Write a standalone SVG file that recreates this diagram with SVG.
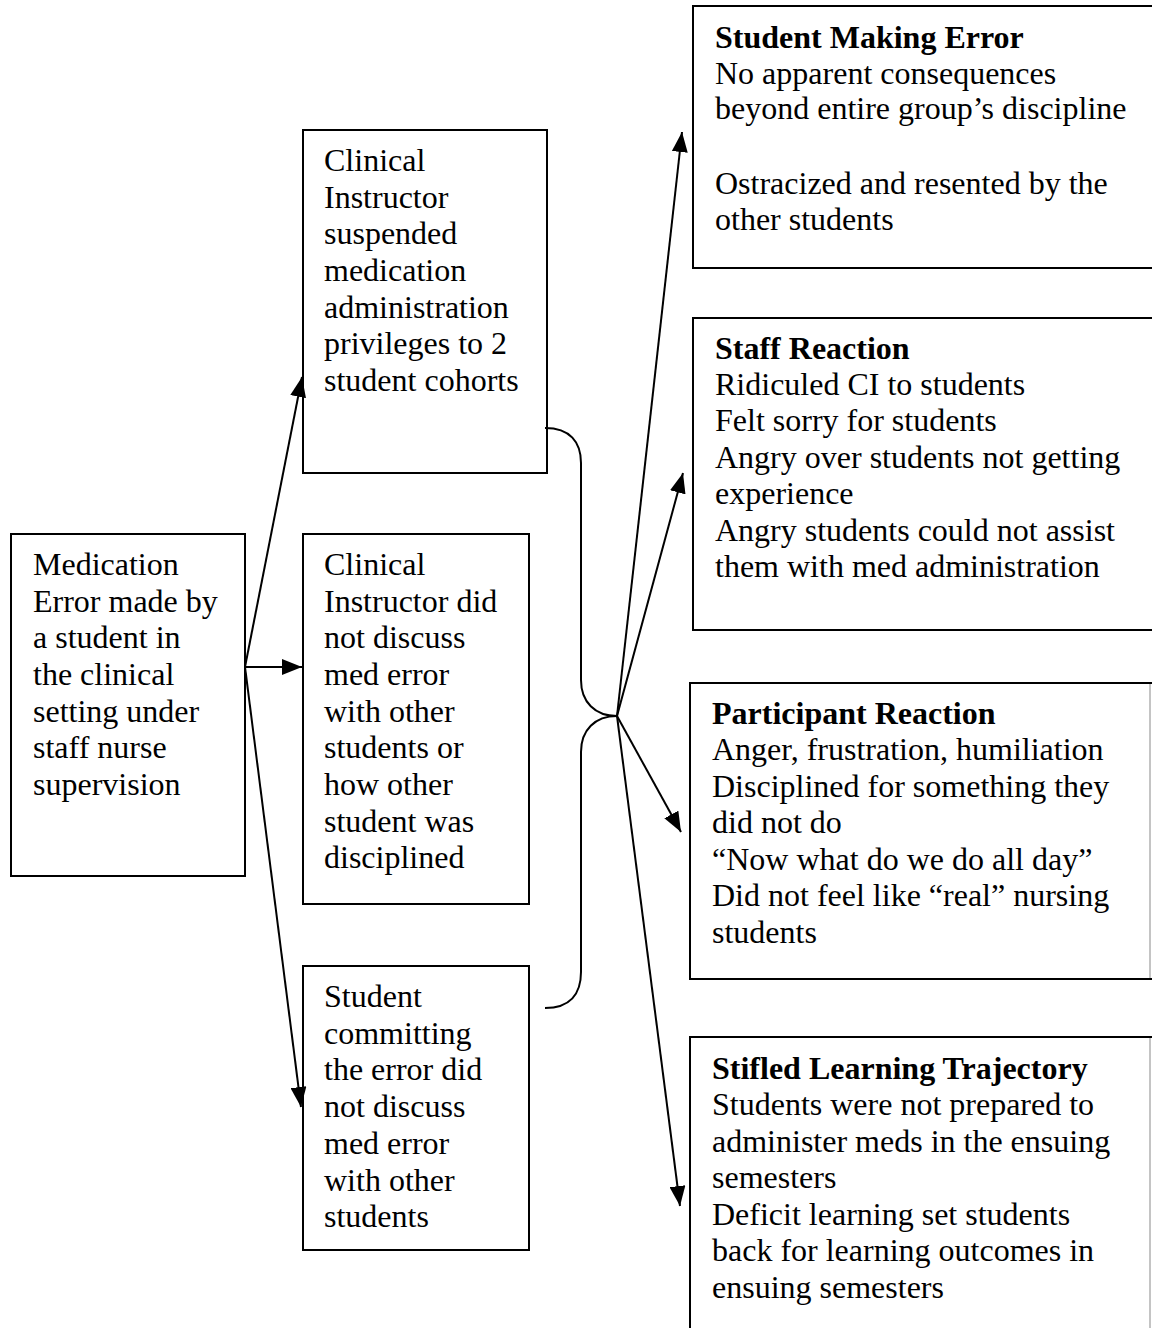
<svg xmlns="http://www.w3.org/2000/svg" width="1152" height="1328" viewBox="0 0 1152 1328">
  <style>
    .box { fill: #ffffff; stroke: #000000; stroke-width: 2; }
    .t { font-family: "Liberation Serif", "Times New Roman", serif; font-size: 32px; fill: #000000; }
    .b { font-weight: bold; }
    .edge { fill: none; stroke: #000000; stroke-width: 2; }
    .faint { stroke: #b0b0b0; stroke-width: 1.5; }
  </style>
  <defs>
    <marker id="arrow" markerUnits="userSpaceOnUse" viewBox="0 0 20 16" refX="20" refY="8" markerWidth="20" markerHeight="16" orient="auto">
      <path d="M0,0 L20,8 L0,16 Z" fill="#000000"/>
    </marker>
  </defs>
  <rect width="1152" height="1328" fill="#ffffff"/>

  <!-- root: the error event -->
  <g id="node-error">
    <rect class="box" x="11" y="534" width="234" height="342"/>
    <text class="t">
      <tspan x="33" y="575">Medication</tspan>
      <tspan x="33" y="612">Error made by</tspan>
      <tspan x="33" y="648">a student in</tspan>
      <tspan x="33" y="685">the clinical</tspan>
      <tspan x="33" y="722">setting under</tspan>
      <tspan x="33" y="758">staff nurse</tspan>
      <tspan x="33" y="795">supervision</tspan>
    </text>
  </g>

  <!-- immediate responses -->
  <g id="node-suspended">
    <rect class="box" x="303" y="130" width="244" height="343"/>
    <text class="t">
      <tspan x="324" y="171">Clinical</tspan>
      <tspan x="324" y="208">Instructor</tspan>
      <tspan x="324" y="244">suspended</tspan>
      <tspan x="324" y="281">medication</tspan>
      <tspan x="324" y="318">administration</tspan>
      <tspan x="324" y="354">privileges to 2</tspan>
      <tspan x="324" y="391">student cohorts</tspan>
    </text>
  </g>

  <g id="node-ci-silent">
    <rect class="box" x="303" y="534" width="226" height="370"/>
    <text class="t">
      <tspan x="324" y="575">Clinical</tspan>
      <tspan x="324" y="612">Instructor did</tspan>
      <tspan x="324" y="648">not discuss</tspan>
      <tspan x="324" y="685">med error</tspan>
      <tspan x="324" y="722">with other</tspan>
      <tspan x="324" y="758">students or</tspan>
      <tspan x="324" y="795">how other</tspan>
      <tspan x="324" y="832">student was</tspan>
      <tspan x="324" y="868">disciplined</tspan>
    </text>
  </g>

  <g id="node-student-silent">
    <rect class="box" x="303" y="966" width="226" height="284"/>
    <text class="t">
      <tspan x="324" y="1007">Student</tspan>
      <tspan x="324" y="1044">committing</tspan>
      <tspan x="324" y="1080">the error did</tspan>
      <tspan x="324" y="1117">not discuss</tspan>
      <tspan x="324" y="1154">med error</tspan>
      <tspan x="324" y="1191">with other</tspan>
      <tspan x="324" y="1227">students</tspan>
    </text>
  </g>

  <!-- outcomes -->
  <g id="node-student-making-error">
    <rect class="box" x="693" y="6" width="480" height="262"/>
    <text class="t">
      <tspan class="b" x="715" y="48">Student Making Error</tspan>
      <tspan x="715" y="84">No apparent consequences</tspan>
      <tspan x="715" y="119">beyond entire group’s discipline</tspan>
      <tspan x="715" y="194">Ostracized and resented by the</tspan>
      <tspan x="715" y="230">other students</tspan>
    </text>
  </g>

  <g id="node-staff-reaction">
    <rect class="box" x="693" y="318" width="480" height="312"/>
    <text class="t">
      <tspan class="b" x="715" y="359">Staff Reaction</tspan>
      <tspan x="715" y="395">Ridiculed CI to students</tspan>
      <tspan x="715" y="431">Felt sorry for students</tspan>
      <tspan x="715" y="468">Angry over students not getting</tspan>
      <tspan x="715" y="504">experience</tspan>
      <tspan x="715" y="541">Angry students could not assist</tspan>
      <tspan x="715" y="577">them with med administration</tspan>
    </text>
  </g>

  <g id="node-participant-reaction">
    <rect class="box" x="690" y="683" width="480" height="296"/>
    <line class="faint" x1="1150" y1="684" x2="1150" y2="978"/>
    <text class="t">
      <tspan class="b" x="712" y="724">Participant Reaction</tspan>
      <tspan x="712" y="760">Anger, frustration, humiliation</tspan>
      <tspan x="712" y="797">Disciplined for something they</tspan>
      <tspan x="712" y="833">did not do</tspan>
      <tspan x="712" y="870">“Now what do we do all day”</tspan>
      <tspan x="712" y="906">Did not feel like “real” nursing</tspan>
      <tspan x="712" y="943">students</tspan>
    </text>
  </g>

  <g id="node-stifled-learning">
    <rect class="box" x="690" y="1037" width="480" height="310"/>
    <line class="faint" x1="1150" y1="1038" x2="1150" y2="1328"/>
    <text class="t">
      <tspan class="b" x="712" y="1079">Stifled Learning Trajectory</tspan>
      <tspan x="712" y="1115">Students were not prepared to</tspan>
      <tspan x="712" y="1152">administer meds in the ensuing</tspan>
      <tspan x="712" y="1188">semesters</tspan>
      <tspan x="712" y="1225">Deficit learning set students</tspan>
      <tspan x="712" y="1261">back for learning outcomes in</tspan>
      <tspan x="712" y="1298">ensuing semesters</tspan>
    </text>
  </g>

  <g id="connectors">
    <!-- root fan-out -->
    <line class="edge" x1="245" y1="667" x2="302" y2="377" marker-end="url(#arrow)"/>
    <line class="edge" x1="245" y1="667" x2="302" y2="667" marker-end="url(#arrow)"/>
    <line class="edge" x1="245" y1="667" x2="301" y2="1107" marker-end="url(#arrow)"/>
    <!-- brace gathering the three responses -->
    <path class="edge" d="M545,428 C570,428 581,442 581,463 L581,680 C581,702 595,716 617,716 C595,716 581,730 581,752 L581,972 C581,994 570,1008 545,1008"/>
    <!-- outcome fan-out -->
    <line class="edge" x1="617" y1="716" x2="682" y2="132" marker-end="url(#arrow)"/>
    <line class="edge" x1="617" y1="716" x2="683" y2="473" marker-end="url(#arrow)"/>
    <line class="edge" x1="617" y1="716" x2="681" y2="832" marker-end="url(#arrow)"/>
    <line class="edge" x1="617" y1="716" x2="680" y2="1206" marker-end="url(#arrow)"/>
  </g>
</svg>
